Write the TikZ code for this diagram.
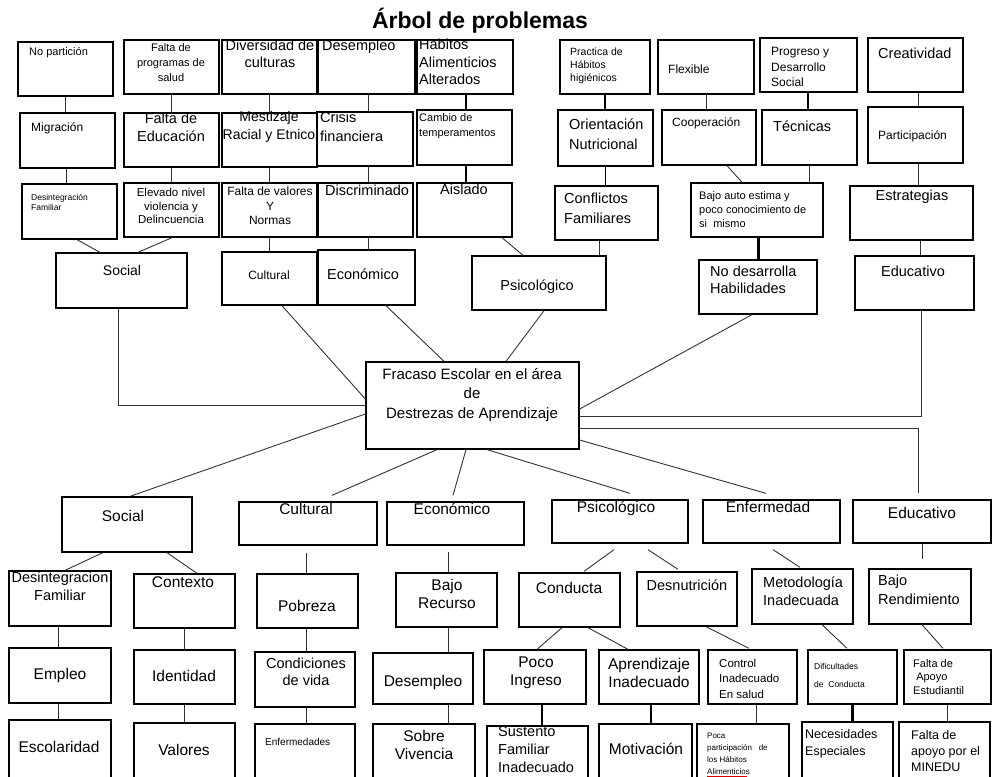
\documentclass[tikz,border=0pt]{standalone}
\usepackage{fontspec}
\setmainfont{Liberation Sans}
\usetikzlibrary{calc}
\newcommand\fs[2]{\fontsize{#1}{#2}\selectfont}
\newcommand\bx[5]{\node[box, minimum width={(#4-#2)*1pt}, minimum height={(#5-#3)*1pt}] (#1) at ({(#2+#4)/2},{(#3+#5)/2}) {};}
\newcommand\txl[6]{\node[txt, align=left, anchor=west, font=\fs{#4}{#5}] (#1) at (#2,#3) {#6};}
\newcommand\txc[6]{\node[txt, align=center, anchor=center, font=\fs{#4}{#5}] (#1) at (#2,#3) {#6};}
\begin{document}
\begin{tikzpicture}[x=1pt,y=-1pt,
 box/.style={draw=black, line width=1.3pt, inner sep=0pt, rectangle},
 txt/.style={inner sep=0pt, text=black},
 con/.style={draw=black!80, line width=0.9pt},
 med/.style={draw=black, line width=1.6pt},
 thk/.style={draw=black, line width=2.4pt}]
\useasboundingbox (0,0) rectangle (992,776);
\fill[white] (0,0) rectangle (992,776);
\clip (0,0) rectangle (992,776);

\node[txt, font=\bfseries\fs{23}{26}] (title) at (480,21) {Árbol de problemas};

% ---------- top boxes ----------
\bx{t11}{18}{42}{113}{96}
\bx{t12}{124}{40}{219}{94}
\bx{t13}{222}{40}{317}{94}
\bx{t14}{318}{40}{415}{94}
\bx{t15}{417}{40}{513}{94}
\bx{t16}{560}{40}{650}{94}
\bx{t17}{658}{40}{754}{94}
\bx{t18}{760}{38}{857}{92}
\bx{t19}{868}{38}{963}{92}

\bx{t21}{20}{113}{115}{168}
\bx{t22}{124}{113}{219}{167}
\bx{t23}{222}{113}{317}{167}
\bx{t24}{317}{112}{413}{166}
\bx{t25}{417}{110}{512}{165}
\bx{t26}{558}{110}{653}{166}
\bx{t27}{662}{110}{756}{165}
\bx{t28}{762}{110}{857}{165}
\bx{t29}{868}{107}{963}{163}

\bx{t31}{22}{184}{117}{239}
\bx{t32}{124}{183}{219}{237}
\bx{t33}{222}{183}{317}{237}
\bx{t34}{318}{183}{413}{237}
\bx{t35}{417}{183}{512}{237}
\bx{t36}{555}{186}{658}{240}
\bx{t37}{691}{183}{823}{237}
\bx{t38}{850}{186}{973}{240}

\bx{t41}{56}{253}{187}{308}
\bx{t42}{222}{252}{317}{305}
\bx{t43}{318}{250}{415}{305}
\bx{t44}{472}{256}{606}{310}
\bx{t45}{699}{260}{817}{314}
\bx{t46}{855}{256}{974}{310}

\bx{ctr}{366}{362}{579}{449}

% ---------- bottom boxes ----------
\bx{b11}{62}{497}{192}{552}
\bx{b12}{239}{502}{377}{545}
\bx{b13}{387}{502}{524}{545}
\bx{b14}{552}{500}{688}{543}
\bx{b15}{703}{500}{840}{543}
\bx{b16}{853}{500}{991}{543}

\bx{b21}{9}{571}{111}{626}
\bx{b22}{134}{574}{235}{628}
\bx{b23}{257}{574}{358}{628}
\bx{b24}{396}{573}{497}{627}
\bx{b25}{519}{573}{620}{627}
\bx{b26}{637}{572}{737}{626}
\bx{b27}{752}{569}{853}{624}
\bx{b28}{869}{569}{971}{624}

\bx{b31}{9}{648}{111}{703}
\bx{b32}{134}{650}{235}{704}
\bx{b33}{255}{652}{355}{707}
\bx{b34}{373}{653}{473}{704}
\bx{b35}{484}{650}{586}{704}
\bx{b36}{599}{650}{699}{704}
\bx{b37}{708}{650}{797}{704}
\bx{b38}{808}{650}{897}{704}
\bx{b39}{904}{650}{991}{704}

\bx{b41}{9}{720}{111}{790}
\bx{b42}{134}{723}{235}{790}
\bx{b43}{255}{724}{355}{790}
\bx{b44}{373}{724}{475}{790}
\bx{b45}{487}{726}{588}{790}
\bx{b46}{599}{724}{692}{790}
\bx{b47}{697}{724}{789}{790}
\bx{b48}{802}{722}{893}{790}
\bx{b49}{899}{722}{990}{790}

% ---------- top texts ----------
\txl{x11}{29}{53}{11}{13}{No partición}
\txc{x12}{171}{63}{11}{15}{Falta de\\programas de\\salud}
\txc{x13}{270}{54}{14.5}{17.5}{Diversidad de\\culturas}
\txl{x14}{322}{47}{14.5}{17.5}{Desempleo}
\txl{x15}{419}{62}{14.5}{17.5}{Habitos\\Alimenticios\\Alterados}
\txl{x16}{570}{66}{10.5}{13}{Practica de\\Hábitos\\higiénicos}
\txl{x17}{668}{69}{12}{14}{Flexible}
\txl{x18}{771}{67}{12}{15.5}{Progreso y\\Desarrollo\\Social}
\txl{x19}{878}{53}{14.5}{17.5}{Creatividad}

\txl{x21}{31}{128}{12}{14}{Migración}
\txc{x22}{171}{127}{14.5}{18}{Falta de\\Educación}
\txc{x23}{269}{127}{14}{18}{Mestizaje\\Racial y Etnico}
\txl{x24}{320}{127}{14.5}{19}{Crisis\\financiera}
\txl{x25}{419}{126}{11}{15}{Cambio de\\temperamentos}
\txl{x26}{569}{134}{14.5}{20}{Orientación\\Nutricional}
\txl{x27}{672}{123}{12}{14}{Cooperación}
\txl{x28}{773}{126}{14.5}{17}{Técnicas}
\txl{x29}{878}{136}{12}{14}{Participación}

\txl{x31}{31}{202}{8.5}{10}{Desintegración\\Familiar}
\txc{x32}{171}{206}{11.5}{13.5}{Elevado nivel\\violencia y\\Delincuencia}
\txc{x33}{270}{206}{12}{14.5}{Falta de valores\\Y\\Normas}
\txl{x34}{325}{190}{14.5}{17}{Discriminado}
\txc{x35}{464}{189}{14.5}{17}{Aislado}
\txl{x36}{564}{208}{14.5}{20}{Conflictos\\Familiares}
\txl{x37}{699}{210}{11}{14}{Bajo auto estima y\\poco conocimiento de\\si\ \ mismo}
\txc{x38}{912}{197}{14.5}{17}{Estrategias}

\txc{x41}{122}{270}{14}{17}{Social}
\txc{x42}{269}{275}{12}{15}{Cultural}
\txc{x43}{363}{274}{14.5}{17}{Económico}
\txc{x44}{537}{287}{14.5}{17}{Psicológico}
\txl{x45}{710}{280}{14.5}{17}{No desarrolla\\Habilidades}
\txc{x46}{913}{271}{14.5}{17}{Educativo}

\txc{x0}{472}{395}{15}{19.5}{Fracaso Escolar en el área\\de\\Destrezas de Aprendizaje}

% ---------- bottom texts ----------
\txc{y11}{123}{516}{15.5}{18}{Social}
\txc{y12}{306}{509}{15.5}{18}{Cultural}
\txc{y13}{452}{509}{15.5}{18}{Económico}
\txc{y14}{616}{508}{15.5}{18}{Psicológico}
\txc{y15}{768}{507}{15.5}{18}{Enfermedad}
\txc{y16}{922}{513}{15.5}{18}{Educativo}

\txc{y21}{60}{586}{14.5}{18}{Desintegracion\\Familiar}
\txc{y22}{183}{582}{15.5}{18}{Contexto}
\txc{y23}{307}{606}{15.5}{18}{Pobreza}
\txc{y24}{447}{594}{15.5}{18}{Bajo\\Recurso}
\txc{y25}{569}{588}{15.5}{18}{Conducta}
\txc{y26}{687}{585}{14.5}{18}{Desnutrición}
\txl{y27}{763}{591}{14.5}{18}{Metodología\\Inadecuada}
\txl{y28}{878}{589.5}{14.5}{19}{Bajo\\Rendimiento}

\txc{y31}{60}{675}{15.5}{18}{Empleo}
\txc{y32}{184}{676}{15.5}{18}{Identidad}
\txc{y33}{306}{671.5}{14.5}{17}{Condiciones\\de vida}
\txc{y34}{423}{682}{15.5}{18}{Desempleo}
\txc{y35}{536}{673}{15.5}{18}{Poco\\Ingreso}
\txc{y36}{649}{673}{15.5}{18}{Aprendizaje\\Inadecuado}
\txl{y37}{719}{678.5}{11.5}{15.5}{Control\\Inadecuado\\En salud}
\txl{y38}{814}{675}{8.5}{18}{Dificultades\\de\ \ Conducta}
\txl{y39}{913}{677}{11}{13.5}{Falta de\\\ Apoyo\\Estudiantil}

\txc{y41}{59}{747}{15.5}{18}{Escolaridad}
\txc{y42}{184}{750}{15.5}{18}{Valores}
\txl{y43}{265}{742}{10}{12}{Enfermedades}
\txc{y44}{424}{745}{15.5}{18}{Sobre\\Vivencia}
\txl{y45}{498}{749}{14.5}{18}{Sustento\\Familiar\\Inadecuado}
\txc{y46}{646}{749}{15.5}{18}{Motivación}
\txl{y47}{707}{754}{8}{12}{Poca\\participación\ \ \ de\\los Hábitos\\Alimenticios}
\draw[red!85!black, line width=0.7pt] ($(y47.south west)+(0,1)$) -- ++(40,0);
\txl{y48}{805}{743.5}{12.5}{17}{Necesidades\\Especiales}
\txl{y49}{911}{751}{12.5}{16}{Falta de\\apoyo por el\\MINEDU}

% ---------- top connectors ----------
\draw[con] (t11.south) -- (t11.south |- t21.north);
\draw[con] ($(t21.south)+(-1.5,0)$) -- ($(t21.south |- t31.north)+(-1.5,0)$);
\draw[con] (t12.south) -- (t12.south |- t22.north);
\draw[con] (t22.south) -- (t22.south |- t32.north);
\draw[con] (t13.south) -- (t13.south |- t23.north);
\draw[con] (t23.south) -- (t23.south |- t33.north);
\draw[con] (t33.south) -- (t33.south |- t42.north);
\draw[con] ($(t14.south)+(1.5,0)$) -- ($(t14.south |- t24.north)+(1.5,0)$);
\draw[con] ($(t24.south)+(3,0)$) -- ($(t24.south |- t34.north)+(3,0)$);
\draw[con] ($(t34.south)+(2.5,0)$) -- ($(t34.south |- t43.north)+(2.5,0)$);
\draw[thk] ($(t15.south)+(1,0)$) -- ($(t15.south |- t25.north)+(1,0)$);
\draw[thk] ($(t25.south)+(1.5,0)$) -- ($(t25.south |- t35.north)+(1.5,0)$);
\draw[med] (t16.south) -- (t16.south |- t26.north);
\draw[med] (t26.south) -- ($(t26.south |- t36.north)$);
\draw[con] (t17.south) -- (t17.south |- t27.north);
\draw[thk] ($(t18.south)+(-0.5,0)$) -- ($(t18.south |- t28.north)+(-0.5,0)$);
\draw[con] ($(t19.south)+(2.5,0)$) -- ($(t19.south |- t29.north)+(2.5,0)$);
\draw[con] ($(t29.south)+(2.5,0)$) -- ($(t29.south |- t38.north)+(2.5,0)$);
\draw[con] ($(t38.south)+(8.5,0)$) -- ($(t38.south |- t46.north)+(8.5,0)$);
\draw[con] ($(t31.south)+(7.5,0)$) -- ($(t41.north)+(-21.5,0)$);
\draw[con] ($(t32.south)+(0.5,0)$) -- ($(t41.north)+(16.5,0)$);
\draw[con] ($(t35.south)+(37.5,0)$) -- ($(t44.north)+(-16,0)$);
\draw[con] ($(t36.south)+(-7.5,0)$) -- ($(t36.south |- t44.north)+(-7.5,0)$);
\draw[con] ($(t27.south)+(18,0)$) -- ($(t37.north)+(-15,0)$);
\draw[con] (t28.south) -- (t28.south |- t37.north);
\draw[thk] ($(t37.south)+(1.5,0)$) -- ($(t37.south |- t45.north)+(1.5,0)$);

% ---------- to / from the centre ----------
\draw[con] ($(t41.south)+(-3.5,0)$) |- (ctr.west);
\draw[con] ($(t42.south)+(12.5,0)$) -- ($(ctr.west)+(0,-6.5)$);
\draw[con] ($(t43.south)+(19.5,0)$) -- ($(ctr.north)+(-28.5,0)$);
\draw[con] ($(t44.south)+(5,0)$) -- ($(ctr.north)+(33.5,0)$);
\draw[con] ($(t45.south)+(-6,0)$) -- ($(ctr.east)+(0,3.5)$);
\draw[con] ($(t46.south)+(6.5,0)$) |- ($(ctr.east)+(0,10.5)$);

\draw[con] ($(ctr.west)+(0,8.5)$) -- ($(b11.north)+(3,0)$);
\draw[con] ($(ctr.south)+(-35.5,0)$) -- ($(b12.north)+(24,-6)$);
\draw[con] ($(ctr.south)+(-6.5,0)$) -- ($(b13.north)+(-2.5,-6)$);
\draw[con] ($(ctr.south)+(14.5,0)$) -- ($(b14.north)+(10,-6)$);
\draw[con] ($(ctr.east)+(0,34.5)$) -- ($(b15.north)+(-5.5,-6)$);
\draw[con] ($(ctr.east)+(0,22.5)$) -| ($(b16.north)+(-4,-6)$);

% ---------- bottom connectors ----------
\draw[con] ($(b11.south)+(-24,0)$) -- ($(b21.north)+(5,0)$);
\draw[con] ($(b11.south)+(40,0)$) -- ($(b22.north)+(12.5,0)$);
\draw[con] ($(b12.south)+(-2,7)$) -- ($(b12.south |- b23.north)+(-2,0)$);
\draw[con] ($(b24.north |- b13.south)+(1.5,6)$) -- ($(b24.north)+(1.5,0)$);
\draw[con] ($(b14.south)+(-6,6)$) -- ($(b25.north)+(14.5,-1)$);
\draw[con] ($(b14.south)+(28,6)$) -- ($(b26.north)+(-9,-2)$);
\draw[con] ($(b15.south)+(1.5,6)$) -- ($(b27.north)+(-2.5,-1)$);
\draw[con] (b16.south) -- ($(b16.south |- b28.north)+(0,-9)$);

\draw[con] ($(b21.south)+(-2,0)$) -- ($(b21.south |- b31.north)+(-2,0)$);
\draw[con] (b22.south) -- (b22.south |- b32.north);
\draw[con] ($(b23.south)+(-1.5,0)$) -- ($(b23.south |- b33.north)+(-1.5,0)$);
\draw[con] ($(b24.south)+(1.5,0)$) -- ($(b24.south |- b34.north)+(1.5,0)$);
\draw[con] ($(b25.south)+(-7.5,0)$) -- ($(b35.north)+(2,0)$);
\draw[con] ($(b25.south)+(18.5,0)$) -- ($(b36.north)+(-21,0)$);
\draw[con] ($(b26.south)+(19,0)$) -- ($(b37.north)+(-3.5,-1)$);
\draw[con] ($(b27.south)+(19.5,0)$) -- ($(b38.north)+(-5.5,-1)$);
\draw[con] ($(b28.south)+(2,0)$) -- ($(b39.north)+(-4.5,-1)$);

\draw[con] ($(b31.south)+(-2,0)$) -- ($(b31.south |- b41.north)+(-2,0)$);
\draw[con] (b32.south) -- (b32.south |- b42.north);
\draw[con] ($(b33.south)+(1,0)$) -- ($(b33.south |- b43.north)+(1,0)$);
\draw[con] ($(b34.south)+(25,0)$) -- ($(b34.south |- b44.north)+(25,0)$);
\draw[thk] ($(b35.south)+(7,0)$) -- ($(b35.south |- b45.north)+(7,0)$);
\draw[thk] ($(b36.south)+(2,0)$) -- ($(b36.south |- b46.north)+(2,0)$);
\draw[con] ($(b37.south)+(3.5,0)$) -- ($(b37.south |- b47.north)+(3.5,0)$);
\draw[thk] (b38.south) -- (b38.south |- b48.north);
\draw[con] (b39.south) -- (b39.south |- b49.north);
\end{tikzpicture}
\end{document}
